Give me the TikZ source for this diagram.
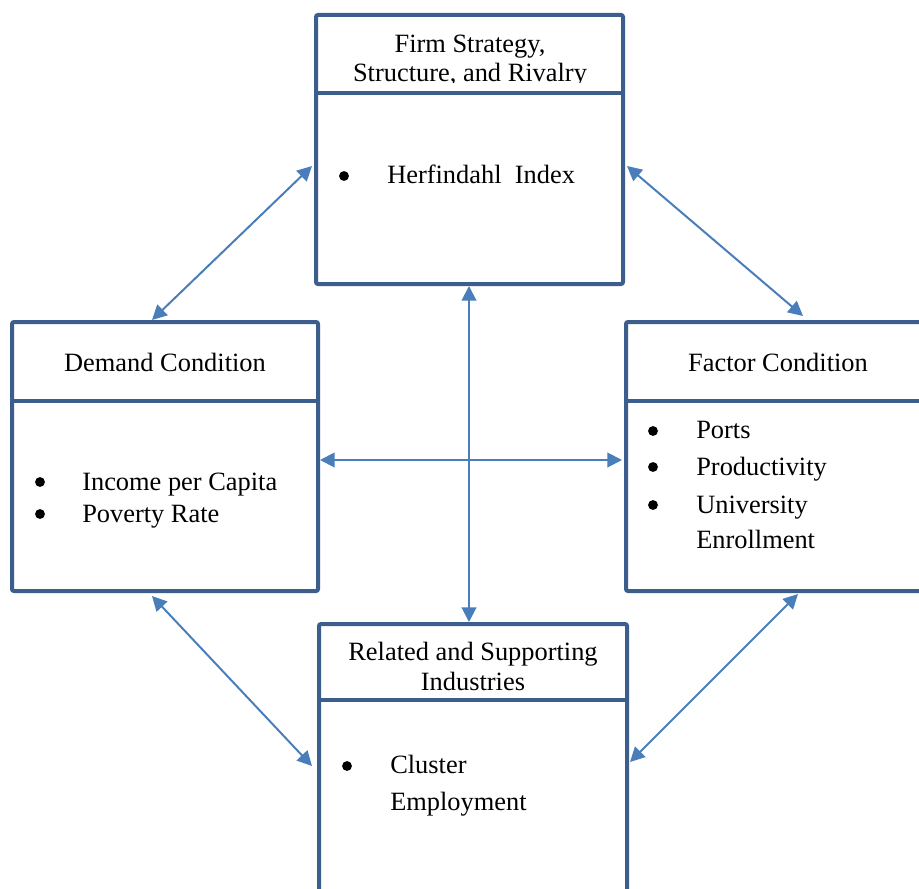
\documentclass[tikz,border=0pt]{standalone}
\usepackage{fontspec}
\setmainfont{Liberation Serif}
\usetikzlibrary{arrows.meta}
\definecolor{boxblue}{RGB}{60,94,140}
\definecolor{arrowblue}{RGB}{74,126,187}
\begin{document}
\begin{tikzpicture}[x=0.75pt,y=-0.75pt,
  box/.style={draw=boxblue,line width=3pt,rounded corners=1.5pt,inner sep=0pt,minimum height=201.75pt},
  sepline/.style={draw=boxblue,line width=3pt},
  conn/.style={draw=arrowblue,line width=1.5pt,{Triangle[length=11pt,width=11pt]}-{Triangle[length=11pt,width=11pt]}},
  title/.style={anchor=base,font=\fontsize{19.8}{24}\selectfont,inner sep=0pt},
  item/.style={anchor=base west,font=\fontsize{19.8}{24}\selectfont,inner sep=0pt},
  bul/.style={fill=black}]
\clip (0,0) rectangle (919,888);
% boxes
\node[box,minimum width=230.25pt] (top) at (469.5,149.5) {};
\node[box,minimum width=229.5pt] (left) at (165,456.5) {};
\node[box,minimum width=230.25pt] (right) at (779.5,456.5) {};
\node[box,minimum width=231pt] (bottom) at (473,758.5) {};
% header separators
\draw[sepline] (316,93) -- (623,93);
\draw[sepline] (12,401) -- (318,401);
\draw[sepline] (626,401) -- (933,401);
\draw[sepline] (319,700) -- (627,700);
% titles
\node[title] (t1a) at (470,53) {Firm Strategy,};
\begin{scope}
\clip (316,60) rectangle (623,83);
\node[title] (t1b) at (470,82) {Structure, and Rivalry};
\end{scope}
\node[title] (t2) at (165,371) {Demand Condition};
\node[title] (t3) at (778,371) {Factor Condition};
\node[title] (t4a) at (473,660) {Related and Supporting};
\node[title] (t4b) at (473,690) {Industries};
% items
\fill[bul] (344,176) circle (3.7pt);
\node[item] (i1) at (387,183) {Herfindahl\ \ Index};
\fill[bul] (40,482) circle (3.7pt);
\node[item] (i2) at (82,490) {Income per Capita};
\fill[bul] (40,514) circle (3.7pt);
\node[item] (i3) at (82,522) {Poverty Rate};
\fill[bul] (653,431) circle (3.7pt);
\node[item] (i4) at (696,438) {Ports};
\fill[bul] (653,467) circle (3.7pt);
\node[item] (i5) at (696,475) {Productivity};
\fill[bul] (653,505) circle (3.7pt);
\node[item] (i6) at (696,513) {University};
\node[item] (i7) at (696,548) {Enrollment};
\fill[bul] (347,766) circle (3.7pt);
\node[item] (i8) at (390,773) {Cluster};
\node[item] (i9) at (390,810) {Employment};
% connector endpoints
\coordinate (a1s) at (152,320); \coordinate (a1e) at (312,166);
\coordinate (a2s) at (627,166); \coordinate (a2e) at (803,316);
\coordinate (a3s) at (152,596); \coordinate (a3e) at (312,766);
\coordinate (a4s) at (798,594); \coordinate (a4e) at (630,762);
\coordinate (vs) at (469,286); \coordinate (ve) at (469,622);
\coordinate (hs) at (320,460); \coordinate (he) at (622,460);
\draw[conn] (a1s) -- (a1e);
\draw[conn] (a2s) -- (a2e);
\draw[conn] (a3s) -- (a3e);
\draw[conn] (a4s) -- (a4e);
\draw[conn] (vs) -- (ve);
\draw[conn] (hs) -- (he);
\end{tikzpicture}
\end{document}
